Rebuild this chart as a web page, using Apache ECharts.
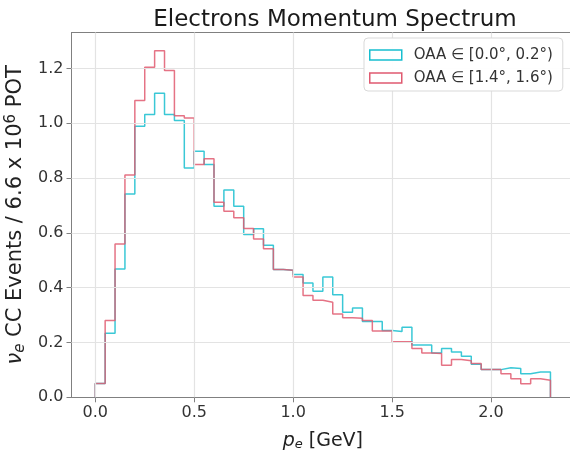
<!DOCTYPE html>
<html>
<head>
<meta charset="utf-8">
<script src="https://cdn.jsdelivr.net/npm/echarts@6/dist/echarts.min.js"></script>
<style>
  html, body { margin: 0; padding: 0; background: #ffffff; }
  #chart { width: 570px; height: 455px; }
</style>
</head>
<body>
<div id="chart"></div>
<script>
// Histogram binning: 46 bins of 0.05 GeV starting at 0
const binStart = 0.0;
const binWidth = 0.05;
const binCount = 46;

// Bin contents, nu_e CC events per 6.6e6 POT
const oaaLow = [ // OAA in [0.0°, 0.2°)
  0.050, 0.234, 0.468, 0.742, 0.989, 1.032, 1.109, 1.032, 1.010, 0.837,
  0.898, 0.849, 0.697, 0.756, 0.697, 0.594, 0.615, 0.555, 0.466, 0.464,
  0.448, 0.417, 0.387, 0.439, 0.374, 0.310, 0.326, 0.277, 0.277, 0.244,
  0.240, 0.256, 0.191, 0.191, 0.162, 0.178, 0.165, 0.150, 0.121, 0.101,
  0.101, 0.108, 0.105, 0.086, 0.092, 0.092
];
const oaaHigh = [ // OAA in [1.4°, 1.6°)
  0.050, 0.280, 0.559, 0.811, 1.083, 1.204, 1.264, 1.192, 1.027, 1.019,
  0.849, 0.870, 0.712, 0.679, 0.655, 0.616, 0.578, 0.542, 0.466, 0.464,
  0.439, 0.371, 0.354, 0.347, 0.304, 0.290, 0.288, 0.280, 0.242, 0.242,
  0.203, 0.203, 0.178, 0.162, 0.160, 0.117, 0.138, 0.133, 0.123, 0.101,
  0.101, 0.086, 0.068, 0.049, 0.068, 0.062
];

const seriesNames = ['OAA ∈ [0.0°, 0.2°)', 'OAA ∈ [1.4°, 1.6°)'];
const seriesColors = ['#17becf', '#e05a70'];

const xTicks = [0.0, 0.5, 1.0, 1.5, 2.0];
const yTicks = [0.0, 0.2, 0.4, 0.6, 0.8, 1.0, 1.2];

// Outline of a step histogram: up from zero at the first edge,
// across every bin, and back down to zero at the last edge.
function stepOutline(values) {
  const pts = [[binStart, 0]];
  for (let i = 0; i < binCount; i++) {
    pts.push([+(binStart + i * binWidth).toFixed(4), values[i]]);
  }
  const lastEdge = +(binStart + binCount * binWidth).toFixed(4);
  pts.push([lastEdge, values[binCount - 1]]);
  pts.push([lastEdge, 0]);
  return pts;
}

const chart = echarts.init(document.getElementById('chart'), null, { renderer: 'canvas' });

const axisGray = '#808080';
const gridGray = '#e3e3e3';
const font = 'DejaVu Sans';
const xMin = -0.12, xMax = 2.42;

chart.setOption({
  animation: false,
  backgroundColor: '#ffffff',
  textStyle: { fontFamily: font },
  title: {
    text: 'Electrons Momentum Spectrum',
    left: 330, top: 4, textAlign: 'center',
    textStyle: { fontFamily: font, fontSize: 23, fontWeight: 'normal', color: '#1a1a1a' }
  },
  grid: {
    left: 71.5, top: 32.5, right: -4.2, bottom: 57.7,
    containLabel: false, outerBoundsMode: 'none',
    show: false
  },
  legend: {
    orient: 'vertical',
    left: 364, top: 38,
    padding: [8, 10, 4, 5],
    itemWidth: 32, itemHeight: 10, itemGap: 5,
    backgroundColor: 'rgba(255,255,255,0.96)',
    borderColor: '#d9d9d9', borderWidth: 1, borderRadius: 4,
    icon: 'rect',
    z: 10,
    textStyle: { fontFamily: font, fontSize: 15, color: '#333', lineHeight: 18, padding: [0, 0, 0, 7] },
    data: seriesNames.map((n, k) => ({
      name: n,
      itemStyle: { color: 'rgba(255,255,255,0)', borderColor: seriesColors[k], borderWidth: 1.5 }
    }))
  },
  xAxis: [
    {
      type: 'value',
      min: xMin, max: xMax,
      name: '{i|p}{s|e} [GeV]',
      nameLocation: 'middle', nameGap: 33,
      nameTextStyle: {
        fontFamily: font, fontSize: 19, color: '#222',
        rich: {
          i: { fontFamily: font, fontStyle: 'italic', fontSize: 19, color: '#222' },
          s: { fontFamily: font, fontStyle: 'italic', fontSize: 13, color: '#222', verticalAlign: 'bottom', padding: [8, 0, 0, 0] }
        }
      },
      axisLine: { show: true, onZero: false, lineStyle: { color: axisGray, width: 1 } },
      axisTick: { show: true, length: 5, lineStyle: { color: axisGray }, customValues: xTicks },
      axisLabel: {
        customValues: xTicks, margin: 8,
        fontFamily: font, fontSize: 16, color: '#333',
        formatter: v => v.toFixed(1)
      },
      splitLine: { show: false }
    },
    // top frame edge of the plotting area
    {
      type: 'value', position: 'top',
      min: xMin, max: xMax,
      axisLine: { show: true, onZero: false, lineStyle: { color: axisGray, width: 1 } },
      axisTick: { show: false }, axisLabel: { show: false }, splitLine: { show: false }
    }
  ],
  yAxis: {
    type: 'value',
    min: 0, max: 1.331,
    name: '{n|ν}{s|e} CC Events / 6.6 x 10{p|6} POT',
    nameLocation: 'middle', nameGap: 40, nameRotate: 90,
    nameTextStyle: {
      fontFamily: font, fontSize: 21, color: '#222',
      rich: {
        n: { fontFamily: font, fontStyle: 'italic', fontSize: 21, color: '#222' },
        s: { fontFamily: font, fontStyle: 'italic', fontSize: 15, color: '#222', verticalAlign: 'bottom', padding: [9, 0, 0, 0] },
        p: { fontFamily: font, fontSize: 15, color: '#222', verticalAlign: 'top', padding: [0, 0, 8, 0] }
      }
    },
    axisLine: { show: true, onZero: false, lineStyle: { color: axisGray, width: 1 } },
    axisTick: { show: true, length: 5, lineStyle: { color: axisGray }, customValues: yTicks },
    axisLabel: {
      customValues: yTicks, margin: 8,
      fontFamily: font, fontSize: 16, color: '#333',
      formatter: v => v.toFixed(1)
    },
    splitLine: { show: false }
  },
  series: [
    // grid lines drawn as mark lines so they sit on the round tick values
    {
      type: 'line', data: [], silent: true, xAxisIndex: 0,
      markLine: {
        silent: true, symbol: 'none', label: { show: false },
        lineStyle: { color: gridGray, width: 1.2, type: 'solid' },
        data: xTicks.map(v => ({ xAxis: v })).concat(yTicks.filter(v => v > 0).map(v => ({ yAxis: v })))
      },
      z: 1
    },
    ...seriesNames.map((n, k) => ({
      name: n,
      type: 'line',
      xAxisIndex: 0,
      step: 'end',
      data: stepOutline(k === 0 ? oaaLow : oaaHigh),
      showSymbol: false,
      symbol: 'none',
      color: seriesColors[k],
      lineStyle: { color: seriesColors[k], width: 1.5, opacity: 0.85 },
      itemStyle: { color: seriesColors[k] },
      z: 3 + k
    }))
  ]
});
</script>
</body>
</html>
